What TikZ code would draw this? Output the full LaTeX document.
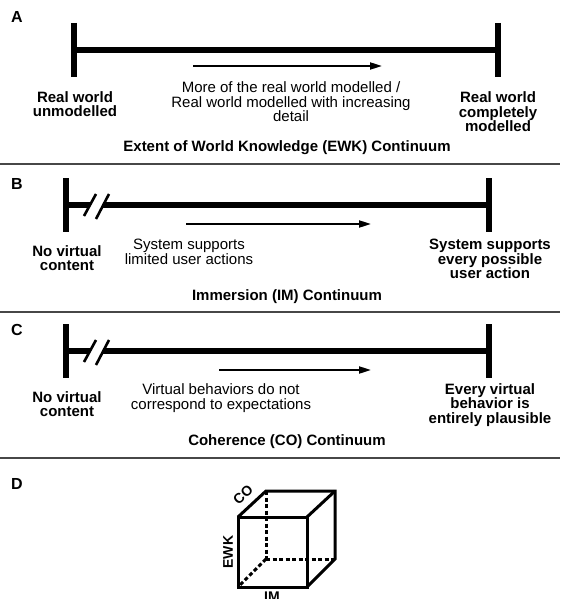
\documentclass[tikz,border=0pt]{standalone}
\usepackage{fontspec}
\setmainfont{Liberation Sans}
\usetikzlibrary{arrows.meta,calc}
\begin{document}
\begin{tikzpicture}[x=1pt,y=-1pt,
  bar/.style={line width=5.5pt},
  slash/.style={line width=2.6pt},
  arr/.style={line width=2pt,-{Triangle[length=12pt,width=7pt]}},
  sepline/.style={line width=1.8pt,draw=black!72},
  txt/.style={font=\fontsize{15}{14.5}\selectfont,align=center,inner sep=0pt},
  btxt/.style={font=\bfseries\fontsize{15}{14.5}\selectfont,align=center,inner sep=0pt},
  plabel/.style={font=\bfseries\fontsize{16}{16}\selectfont,inner sep=0pt},
  cubeedge/.style={line width=3pt},
  cubehidden/.style={line width=3pt,dash pattern=on 4pt off 2.5pt},
  cubelabel/.style={font=\bfseries\fontsize{14}{14}\selectfont,inner sep=0pt}]
\useasboundingbox (0,0) rectangle (560,599);

% ---------- Panel A ----------
\node[plabel] (labA) at (17,17) {A};
\coordinate (aL) at (74,50);
\coordinate (aR) at (498,50);
\draw[bar] (aL) -- (aR);
\draw[bar] ($(aL)+(0,-27)$) -- ($(aL)+(0,27)$);
\draw[bar] ($(aR)+(0,-27)$) -- ($(aR)+(0,27)$);
\coordinate (aS) at (193,66);
\coordinate (aE) at (382,66);
\draw[arr] (aS) -- (aE);
\node[txt] (aMid) at (291,102) {More of the real world modelled /\\Real world modelled with increasing\\detail};
\node[btxt] (aLeft) at (75,104) {Real world\\unmodelled};
\node[btxt] (aRight) at (498,112) {Real world\\completely\\modelled};
\node[btxt] (aCap) at (287,148) {Extent of World Knowledge (EWK) Continuum};
\coordinate (s1l) at (0,164);
\coordinate (s1r) at (560,164);
\draw[sepline] (s1l) -- (s1r);

% ---------- Panel B ----------
\node[plabel] (labB) at (17,184) {B};
\coordinate (bL) at (66,205);
\coordinate (bR) at (489,205);
\coordinate (b1) at (90,205);
\coordinate (b2) at (103,205);
\draw[bar] (bL) -- (b1);
\draw[bar] (b2) -- (bR);
\draw[bar] ($(bL)+(0,-27)$) -- ($(bL)+(0,27)$);
\draw[bar] ($(bR)+(0,-27)$) -- ($(bR)+(0,27)$);
\draw[slash] ($(b1)+(-6,11)$) -- ($(b1)+(6,-11)$);
\draw[slash] ($(b2)+(-7,14)$) -- ($(b2)+(6,-11)$);
\coordinate (bS) at (186,224);
\coordinate (bE) at (371,224);
\draw[arr] (bS) -- (bE);
\node[txt] (bMid) at (189,252) {System supports\\limited user actions};
\node[btxt] (bLeft) at (67,258) {No virtual\\content};
\node[btxt] (bRight) at (490,259) {System supports\\every possible\\user action};
\node[btxt] (bCap) at (287,297) {Immersion (IM) Continuum};
\coordinate (s2l) at (0,312);
\coordinate (s2r) at (560,312);
\draw[sepline] (s2l) -- (s2r);

% ---------- Panel C ----------
\node[plabel] (labC) at (17,330) {C};
\coordinate (cL) at (66,351);
\coordinate (cR) at (489,351);
\coordinate (c1) at (90,351);
\coordinate (c2) at (103,351);
\draw[bar] (cL) -- (c1);
\draw[bar] (c2) -- (cR);
\draw[bar] ($(cL)+(0,-27)$) -- ($(cL)+(0,27)$);
\draw[bar] ($(cR)+(0,-27)$) -- ($(cR)+(0,27)$);
\draw[slash] ($(c1)+(-6,11)$) -- ($(c1)+(6,-11)$);
\draw[slash] ($(c2)+(-7,14)$) -- ($(c2)+(6,-11)$);
\coordinate (cS) at (219,370);
\coordinate (cE) at (371,370);
\draw[arr] (cS) -- (cE);
\node[txt] (cMid) at (221,398) {Virtual behaviors do not\\correspond to expectations};
\node[btxt] (cLeft) at (67,404) {No virtual\\content};
\node[btxt] (cRight) at (490,405) {Every virtual\\behavior is\\entirely plausible};
\node[btxt] (cCap) at (287,442) {Coherence (CO) Continuum};
\coordinate (s3l) at (0,458);
\coordinate (s3r) at (560,458);
\draw[sepline] (s3l) -- (s3r);

% ---------- Panel D ----------
\node[plabel] (labD) at (17,484) {D};
\coordinate (fTL) at (238,517);
\coordinate (fTR) at (307,517);
\coordinate (fBR) at (307,587);
\coordinate (fBL) at (238,587);
\coordinate (kTL) at (266,491);
\coordinate (kTR) at (335,491);
\coordinate (kBR) at (335,559);
\coordinate (kBL) at (266,559);
\draw[cubehidden] (kTL) -- (kBL);
\draw[cubehidden] (kBL) -- (kBR);
\draw[cubehidden] (kBL) -- (fBL);
\draw[cubeedge] (fTL) -- (fTR) -- (fBR) -- (fBL) -- cycle;
\draw[cubeedge] (fTL) -- (kTL) -- (kTR) -- (kBR) -- (fBR);
\draw[cubeedge] (kTR) -- (fTR);
\node[cubelabel,rotate=43] (lCO) at (243,495) {CO};
\node[cubelabel,rotate=90] (lEWK) at (228,552) {EWK};
\node[cubelabel,anchor=north] (lIM) at (272,592) {IM};
\end{tikzpicture}
\end{document}
